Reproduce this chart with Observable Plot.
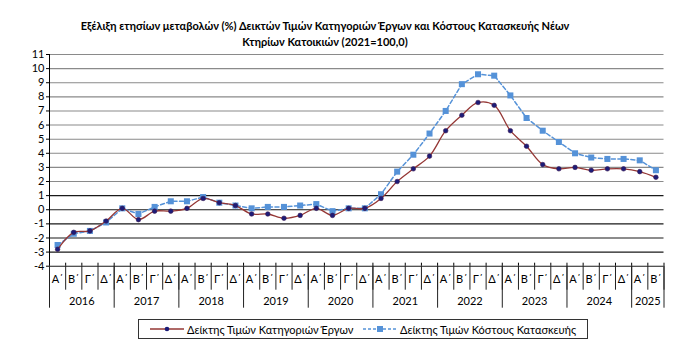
<!DOCTYPE html>
<html>
<head>
<meta charset="utf-8">
<script src="https://cdn.jsdelivr.net/npm/d3@7"></script>
<script src="https://cdn.jsdelivr.net/npm/@observablehq/plot@0.6"></script>
<style>
  html, body { margin: 0; padding: 0; background: #fff; }
  body { width: 680px; height: 360px; position: relative; overflow: hidden; font-family: Lato, "Open Sans", "DejaVu Sans", sans-serif; }
  #title { position: absolute; left: 5px; top: 18px; width: 640px; text-align: center; font-weight: bold; font-size: 11px; line-height: 15.5px; color: #000; }
  #chart { position: absolute; left: 0; top: 0; }
  #legend { position: absolute; left: 138px; top: 319px; width: 448px; height: 18px; border: 1px solid #333; font-size: 11px; color: #000; }
  .item { position: absolute; top: 0; height: 18px; display: flex; align-items: center; white-space: nowrap; }
  .item svg { margin-right: 3px; }
</style>
</head>
<body>
<div id="title">Εξέλιξη ετησίων μεταβολών (%) Δεικτών Τιμών Κατηγοριών Έργων και Κόστους Κατασκευής Νέων<br>Κτηρίων Κατοικιών (2021=100,0)</div>
<div id="chart"></div>
<div id="legend"></div>
<script>
// ---- data ----
const years = [2016, 2017, 2018, 2019, 2020, 2021, 2022, 2023, 2024, 2025];
const quarterLabels = ["Α΄", "Β΄", "Γ΄", "Δ΄"];
const yTicks = [-4, -3, -2, -1, 0, 1, 2, 3, 4, 5, 6, 7, 8, 9, 10, 11];
const seriesNames = ["Δείκτης Τιμών Κατηγοριών Έργων", "Δείκτης Τιμών Κόστους Κατασκευής"];
// Construction works categories price index, annual % change (quarterly, 2016 Q1 – 2025 Q2)
const worksIndex = [-2.8, -1.6, -1.5, -0.8, 0.1, -0.7, -0.1, -0.1, 0.1, 0.8, 0.5, 0.3,
  -0.3, -0.3, -0.6, -0.4, 0.1, -0.4, 0.1, 0.1, 0.8, 2.0, 2.9, 3.8,
  5.6, 6.7, 7.6, 7.4, 5.6, 4.5, 3.2, 2.9, 3.0, 2.8, 2.9, 2.9, 2.7, 2.3];
// Construction cost index, annual % change
const costIndex = [-2.5, -1.7, -1.5, -0.9, 0.1, -0.3, 0.2, 0.6, 0.6, 0.9, 0.5, 0.3,
  0.1, 0.2, 0.2, 0.3, 0.4, -0.1, 0.1, 0.1, 1.1, 2.7, 3.9, 5.4,
  7.0, 8.9, 9.6, 9.5, 8.1, 6.5, 5.6, 4.8, 4.0, 3.7, 3.6, 3.6, 3.5, 2.8];

// ---- derived tables ----
const N = worksIndex.length;
const idx = d3.range(N);
const rows = idx.map(i => ({i, works: worksIndex[i], cost: costIndex[i]}));
const qBounds = d3.range(N + 1).map(i => i - 0.5);
const yBounds = qBounds.filter(b => (b + 0.5) % 4 === 0 || b === N - 0.5);
const yearCenters = years.map((y, k) => {
  const a = k * 4 - 0.5, b = Math.min(k * 4 + 3.5, N - 0.5);
  return (a + b) / 2;
});
const redCol = "#953735", navy = "#1c1c78", blueCol = "#5592d8";
const font = 'Lato, "Open Sans", "DejaVu Sans", sans-serif';

const chart = Plot.plot({
  width: 680,
  height: 360,
  marginLeft: 49,
  marginRight: 16.5,
  marginTop: 54,
  marginBottom: 94.3,
  x: {type: "linear", domain: [-0.5, N - 0.5], axis: null, label: null},
  y: {domain: [-4, 11], axis: null, label: null},
  style: {fontFamily: font, fontSize: "11px", color: "#000", background: "transparent"},
  marks: [
    Plot.ruleY(yTicks, {y: d => d, stroke: d => d >= 2 ? "#8a8a8a" : "#1a1a1a", strokeWidth: 1.1}),
    Plot.ruleX([-0.5], {x: d => d, y1: -4, y2: 11, stroke: "#000"}),
    Plot.ruleX(qBounds, {x: d => d, y1: -4, y2: -4, insetBottom: 3, stroke: "#000"}),
    Plot.axisY(yTicks, {tickSize: 3, tickPadding: 2, tickFormat: d => String(d), stroke: "#000", fontSize: 11, label: null}),
    Plot.axisX(qBounds, {tickSize: 24, tickFormat: () => "", stroke: "#222", label: null}),
    Plot.axisX(yBounds, {tickSize: 42, tickFormat: () => "", stroke: "#222", label: null}),
    Plot.axisX(idx, {tickSize: 0, tickPadding: 9, tickFormat: i => quarterLabels[i % 4], fontSize: 11, label: null}),
    Plot.axisX(yearCenters, {tickSize: 0, tickPadding: 31, tickFormat: d => String(years[Math.floor((d + 0.5) / 4)]), fontSize: 11, label: null}),
    Plot.line(rows, {x: "i", y: "cost", stroke: blueCol, strokeWidth: 1.5, strokeDasharray: "4,2.5"}),
    Plot.dot(rows, {x: "i", y: "cost", symbol: "square", r: 3.4, fill: blueCol, stroke: "none"}),
    Plot.line(rows, {x: "i", y: "works", stroke: redCol, strokeWidth: 1.3, curve: "catmull-rom"}),
    Plot.dot(rows, {x: "i", y: "works", r: 2.3, fill: navy, stroke: "#3a1850", strokeWidth: 0.6})
  ]
});
document.getElementById("chart").appendChild(chart);

// ---- legend ----
const legend = document.getElementById("legend");
function swatch(kind) {
  const s = kind === "works"
    ? `<svg width="34" height="10"><line x1="0" y1="5" x2="34" y2="5" stroke="${redCol}" stroke-width="1.3"/><circle cx="17" cy="5" r="2.3" fill="${navy}"/></svg>`
    : `<svg width="34" height="10"><line x1="0" y1="5" x2="34" y2="5" stroke="${blueCol}" stroke-width="1.5" stroke-dasharray="3,2"/><rect x="14" y="2" width="6" height="6" fill="${blueCol}"/></svg>`;
  return s;
}
legend.innerHTML =
  `<div class="item" style="left:11px">${swatch("works")}<span>${seriesNames[0]}</span></div>` +
  `<div class="item" style="left:224px">${swatch("cost")}<span>${seriesNames[1]}</span></div>`;
</script>
</body>
</html>
